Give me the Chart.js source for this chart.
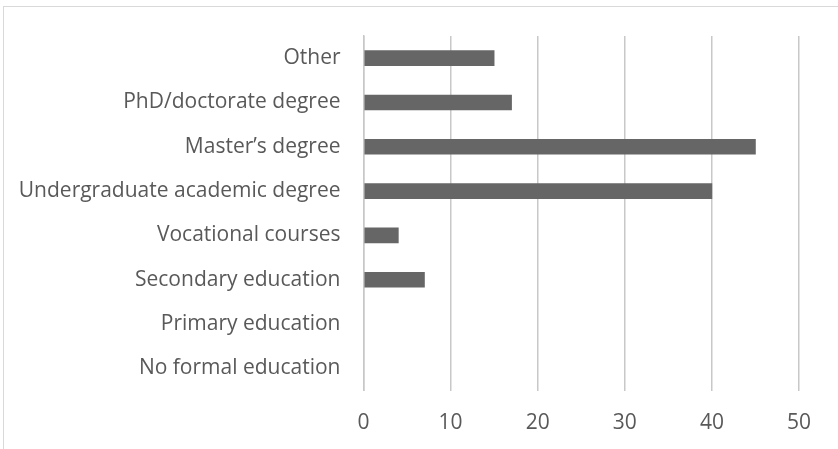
<!DOCTYPE html>
<html>
<head>
<meta charset="utf-8">
<script src="https://cdn.jsdelivr.net/npm/chart.js@4/dist/chart.umd.min.js"></script>
<style>
  html, body { margin: 0; padding: 0; background: #fff; overflow: hidden; }
  #frame {
    position: absolute; left: 3px; top: 6px; width: 900px; height: 500px;
    border-top: 1px solid #d9d9d9; border-left: 1px solid #d9d9d9;
  }
  #wrap { position: absolute; left: 0; top: 0; width: 838px; height: 449px; }
</style>
</head>
<body>
<div id="frame"></div>
<div id="wrap"><canvas id="chart"></canvas></div>
<script>
// 学歴カテゴリ（上から順）
const categories = [
  'Other',
  'PhD/doctorate degree',
  'Master\u2019s degree',
  'Undergraduate academic degree',
  'Vocational courses',
  'Secondary education',
  'Primary education',
  'No formal education'
];
const counts = [15, 17, 45, 40, 4, 7, 0, 0];
const xTicks = [0, 10, 20, 30, 40, 50];

const textColor = '#595959';
const gridColor = '#c8c8c8';
const fontFamily = '"Open Sans", "Noto Sans", sans-serif';

const ctx = document.getElementById('chart');
new Chart(ctx, {
  type: 'bar',
  data: {
    labels: categories,
    datasets: [{
      data: counts,
      backgroundColor: '#666666',
      borderWidth: 0,
      barThickness: 15
    }]
  },
  options: {
    indexAxis: 'y',
    responsive: true,
    maintainAspectRatio: false,
    animation: false,
    layout: { padding: { left: 0, right: 39, top: 36, bottom: 0 } },
    plugins: {
      legend: { display: false },
      tooltip: { enabled: false }
    },
    scales: {
      x: {
        min: xTicks[0],
        max: xTicks[xTicks.length - 1],
        afterBuildTicks: (scale) => {
          scale.ticks = xTicks.map(v => ({ value: v }));
        },
        afterFit: (scale) => { scale.height = 58.5; },
        border: { display: false },
        grid: { color: gridColor, lineWidth: 1.5, drawTicks: false },
        ticks: {
          padding: 20,
          color: textColor,
          font: { family: fontFamily, size: 21 }
        }
      },
      y: {
        afterFit: (scale) => { scale.width = 363.5; },
        border: { display: true, color: gridColor, width: 1.5, z: 1 },
        grid: { display: false, drawTicks: false },
        ticks: {
          padding: 23,
          color: textColor,
          font: { family: fontFamily, size: 21 }
        }
      }
    }
  }
});
</script>
</body>
</html>
